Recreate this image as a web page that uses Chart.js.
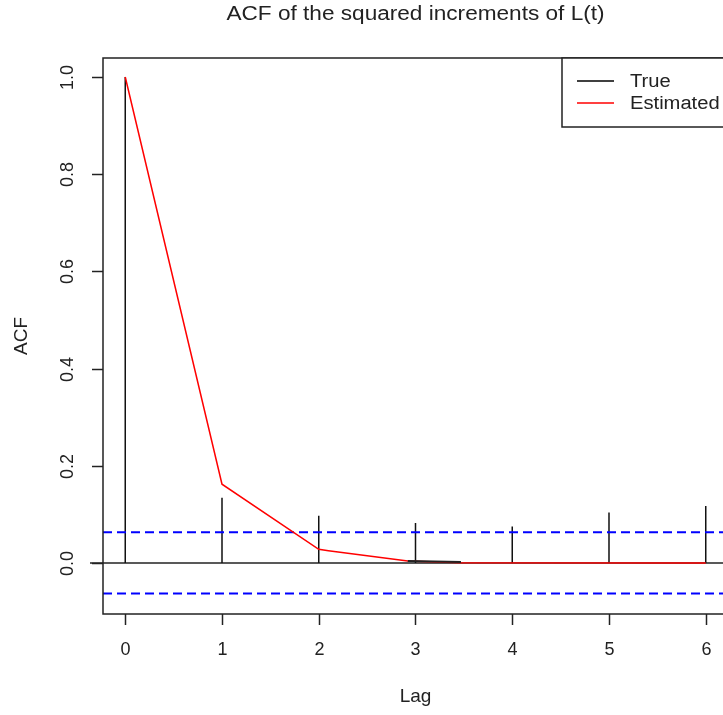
<!DOCTYPE html>
<html>
<head>
<meta charset="utf-8">
<script src="https://cdn.jsdelivr.net/npm/chart.js@4"></script>
<style>
  html, body { margin: 0; padding: 0; background: #fff; overflow: hidden; }
  #wrap { width: 760px; height: 715px; }
</style>
</head>
<body>
<div id="wrap"><canvas id="myChart" width="760" height="715"></canvas></div>
<script>
// lags and ACF values
const trueLags = [0, 1, 2, 3, 4, 5, 6];
const trueAcf = [1.0, 0.134, 0.097, 0.082, 0.075, 0.104, 0.117];

const estLags = [0, 1, 2, 2.1, 2.92, 3.47, 6];
const estAcf = [1.0, 0.162, 0.028, 0.025, 0.004, 0.0005, 0];

// short dark piece sitting on the red line near lag 3
const darkLags = [2.92, 3.47];
const darkAcf = [0.004, 0.002];

const clim = 0.063;
const xTicks = [0, 1, 2, 3, 4, 5, 6];
const yTicks = [0.0, 0.2, 0.4, 0.6, 0.8, 1.0];
const yTickLabels = ['0.0', '0.2', '0.4', '0.6', '0.8', '1.0'];

const xMin = -0.23, xMax = 6.23;
const yMin = -0.105, yMax = 1.039;

const FONT = '"Liberation Sans", Arial, sans-serif';
const ctx = document.getElementById('myChart').getContext('2d');

// spikes: 0 -> value, then a gap
var spikeData = [];
trueLags.forEach((lag, i) => {
    spikeData.push({x: lag, y: 0});
    spikeData.push({x: lag, y: trueAcf[i]});
    spikeData.push({x: lag, y: null});
});

// text stretched a bit wider, like the original bitmap
function wideText(c, txt, x, y, sx) {
    c.save();
    c.translate(x, y);
    c.scale(sx, 1);
    c.fillText(txt, 0, 0);
    c.restore();
}

const rAxes = {
    id: 'rAxes',
    beforeDatasetsDraw(chart) {
        const c = chart.ctx;
        const a = chart.chartArea;
        const ys = chart.scales.y;
        const y0 = ys.getPixelForValue(0);
        c.save();
        c.strokeStyle = '#222';
        c.lineWidth = 1.5;
        c.beginPath();
        c.moveTo(a.left - 13, y0);
        c.lineTo(chart.width, y0);
        c.stroke();
        c.restore();
    },
    afterDraw(chart) {
        const c = chart.ctx;
        const a = chart.chartArea;
        const xs = chart.scales.x;
        const ys = chart.scales.y;
        c.save();
        c.strokeStyle = '#222';
        c.lineWidth = 1.5;
        c.strokeRect(a.left, a.top, a.right - a.left, a.bottom - a.top);

        c.fillStyle = '#222';
        c.font = '18px ' + FONT;
        c.textAlign = 'center';
        c.textBaseline = 'middle';
        xTicks.forEach(t => {
            const px = Math.round(xs.getPixelForValue(t)) + 0.5;
            c.beginPath();
            c.moveTo(px, a.bottom);
            c.lineTo(px, a.bottom + 11);
            c.stroke();
            c.fillText(String(t), px, 650);
        });
        yTicks.forEach((t, i) => {
            const py = Math.round(ys.getPixelForValue(t)) + 0.5;
            c.beginPath();
            c.moveTo(a.left, py);
            c.lineTo(a.left - 11, py);
            c.stroke();
            c.save();
            c.translate(68, py);
            c.rotate(-Math.PI / 2);
            c.fillText(yTickLabels[i], 0, 0);
            c.restore();
        });

        // axis titles
        c.font = '19px ' + FONT;
        c.fillText('Lag', (a.left + a.right) / 2, 697);
        c.save();
        c.translate(22, (a.top + a.bottom) / 2);
        c.rotate(-Math.PI / 2);
        c.fillText('ACF', 0, 0);
        c.restore();

        // main title
        c.font = '20px ' + FONT;
        c.textBaseline = 'alphabetic';
        wideText(c, 'ACF of the squared increments of L(t)', (a.left + a.right) / 2, 20, 1.13);

        // legend
        const lx = 562, ly = a.top, lw = a.right - lx, lh = 69;
        c.fillStyle = '#fff';
        c.fillRect(lx, ly, lw, lh);
        c.strokeRect(lx, ly, lw, lh);
        const items = [['True', '#000'], ['Estimated', '#ff0000']];
        c.textAlign = 'left';
        c.textBaseline = 'middle';
        c.font = '18px ' + FONT;
        items.forEach((it, i) => {
            const yy = ly + 23 + i * 22;
            c.strokeStyle = it[1];
            c.lineWidth = 1.5;
            c.beginPath();
            c.moveTo(577, yy);
            c.lineTo(614, yy);
            c.stroke();
            c.fillStyle = '#222';
            wideText(c, it[0], 630, yy + 1, 1.12);
        });
        c.restore();
    }
};

const chart = new Chart(ctx, {
    type: 'scatter',
    data: {
        datasets: [{
            label: 'True',
            data: spikeData,
            showLine: true,
            spanGaps: false,
            borderColor: '#111',
            borderWidth: 1.5,
            pointRadius: 0,
            order: 4
        }, {
            label: 'ci upper',
            data: [{x: xMin, y: clim}, {x: xMax, y: clim}],
            showLine: true,
            borderColor: '#0000ff',
            borderWidth: 2,
            borderDash: [9, 5],
            pointRadius: 0,
            order: 3
        }, {
            label: 'ci lower',
            data: [{x: xMin, y: -clim}, {x: xMax, y: -clim}],
            showLine: true,
            borderColor: '#0000ff',
            borderWidth: 2,
            borderDash: [9, 5],
            pointRadius: 0,
            order: 3
        }, {
            label: 'Estimated',
            data: estLags.map((l, i) => ({x: l, y: estAcf[i]})),
            showLine: true,
            borderColor: '#ff0000',
            borderWidth: 1.5,
            pointRadius: 0,
            order: 2
        }, {
            label: 'dark',
            data: darkLags.map((l, i) => ({x: l, y: darkAcf[i]})),
            showLine: true,
            borderColor: '#222',
            borderWidth: 1.8,
            pointRadius: 0,
            order: 1
        }]
    },
    options: {
        responsive: false,
        animation: false,
        layout: {
            padding: {left: 103, top: 58, right: 32, bottom: 101}
        },
        plugins: {
            legend: {display: false},
            tooltip: {enabled: false},
            title: {display: false}
        },
        scales: {
            x: {type: 'linear', min: xMin, max: xMax, display: false},
            y: {type: 'linear', min: yMin, max: yMax, display: false}
        }
    },
    plugins: [rAxes]
});
</script>
</body>
</html>
